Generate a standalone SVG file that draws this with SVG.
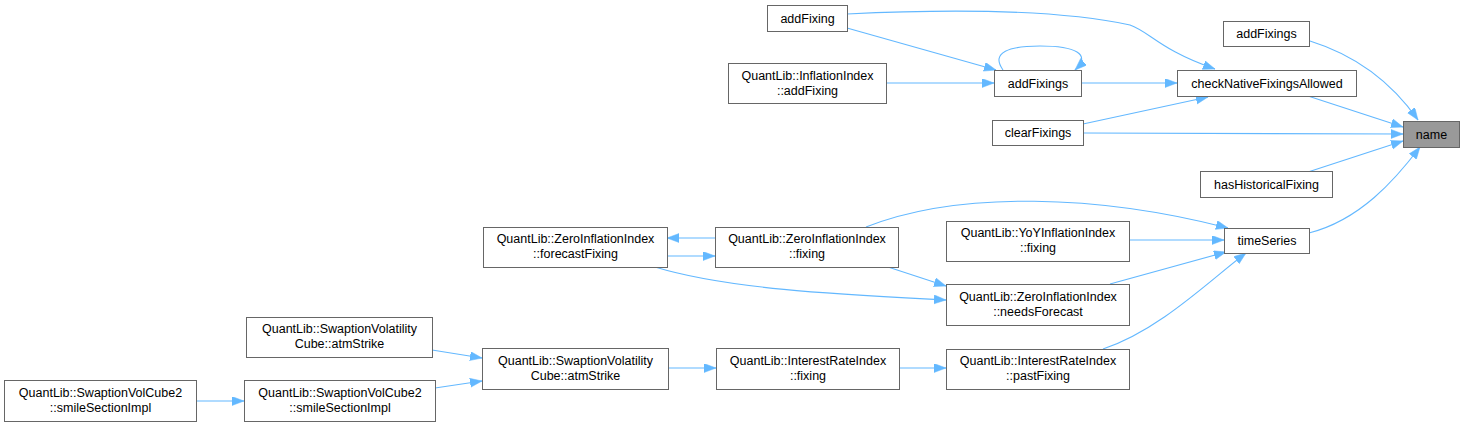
<svg xmlns="http://www.w3.org/2000/svg" width="1464" height="426" viewBox="0 0 1464 426">
<style>
.n rect{fill:#fff;stroke:#666;stroke-width:1}
.n text{font-family:"Liberation Sans",Arial,sans-serif;font-size:12.5px;fill:#000;text-anchor:middle}
.e path{fill:none;stroke:#63b8ff;stroke-width:1.1;marker-end:url(#a)}
</style>
<defs>
<marker id="a" markerUnits="userSpaceOnUse" markerWidth="13" markerHeight="10" refX="12" refY="4.5" orient="auto">
<path d="M0,0 L12,4.5 L0,9 z" fill="#63b8ff" stroke="#63b8ff" stroke-width="0.5"/>
</marker>
</defs>
<rect width="1464" height="426" fill="#fff"/>
<g id="edges" class="e">
<path d="M1310,41 C1355,55 1390,80 1418,120"/>
<path d="M1308,96 L1403,127"/>
<path d="M1083,133 L1403,134"/>
<path d="M1308,172 L1403,141"/>
<path d="M1309,233 C1360,220 1395,180 1420,147"/>
<path d="M847,14 C950,9 1060,10 1130,25 C1150,32 1160,50 1215,69"/>
<path d="M847,28 L996,70"/>
<path d="M886,83 L994,83"/>
<path d="M1003,70 C990,52 1010,46 1040,46 C1075,46 1092,54 1075,70"/>
<path d="M1081,83 L1177,83"/>
<path d="M1083,124 L1208,97"/>
<path d="M866,227 C960,190 1100,195 1228,228"/>
<path d="M1129,240 L1224,240"/>
<path d="M1110,284 L1226,252"/>
<path d="M1103,349 C1160,330 1210,280 1246,253"/>
<path d="M715,238 L667,238"/>
<path d="M667,256 L715,256"/>
<path d="M888,267 L946,286"/>
<path d="M655,267 C730,290 850,295 946,300"/>
<path d="M432,350 L482,358"/>
<path d="M435,388 L482,381"/>
<path d="M196,401 L244,401"/>
<path d="M668,368 L716,368"/>
<path d="M899,368 L946,368"/>
</g>
<g id="name" class="n"><rect x="1403.5" y="121.5" width="56" height="26" style="fill:#999"/><text x="1431.5" y="138.5">name</text></g>
<g id="addFixings_r" class="n"><rect x="1223.5" y="21.5" width="86" height="25"/><text x="1266.5" y="38">addFixings</text></g>
<g id="checkNative" class="n"><rect x="1177.5" y="70.5" width="179" height="26"/><text x="1267" y="87.5">checkNativeFixingsAllowed</text></g>
<g id="hasHistorical" class="n"><rect x="1200.5" y="171.5" width="132" height="26"/><text x="1266.5" y="188.5">hasHistoricalFixing</text></g>
<g id="timeSeries" class="n"><rect x="1224.5" y="228.5" width="85" height="25"/><text x="1267" y="245">timeSeries</text></g>
<g id="addFixing" class="n"><rect x="767.5" y="5.5" width="80" height="26"/><text x="807.5" y="22.5">addFixing</text></g>
<g id="inflAddFixing" class="n"><rect x="728.5" y="63.5" width="158" height="40"/><text x="807.5" y="79.5">QuantLib::InflationIndex</text><text x="807.5" y="94.5">::addFixing</text></g>
<g id="addFixings_m" class="n"><rect x="994.5" y="70.5" width="87" height="26"/><text x="1038" y="87.5">addFixings</text></g>
<g id="clearFixings" class="n"><rect x="992.5" y="120.5" width="91" height="25"/><text x="1038" y="137">clearFixings</text></g>
<g id="forecastFixing" class="n"><rect x="483.5" y="227.5" width="184" height="40"/><text x="575.5" y="243">QuantLib::ZeroInflationIndex</text><text x="575.5" y="258">::forecastFixing</text></g>
<g id="ziiFixing" class="n"><rect x="715.5" y="227.5" width="183" height="40"/><text x="807" y="243">QuantLib::ZeroInflationIndex</text><text x="807" y="258">::fixing</text></g>
<g id="yoyFixing" class="n"><rect x="946.5" y="221.5" width="183" height="40"/><text x="1038" y="237">QuantLib::YoYInflationIndex</text><text x="1038" y="252">::fixing</text></g>
<g id="needsForecast" class="n"><rect x="946.5" y="284.5" width="183" height="41"/><text x="1038" y="300.5">QuantLib::ZeroInflationIndex</text><text x="1038" y="315.5">::needsForecast</text></g>
<g id="pastFixing" class="n"><rect x="946.5" y="349.5" width="183" height="40"/><text x="1038" y="365">QuantLib::InterestRateIndex</text><text x="1038" y="380">::pastFixing</text></g>
<g id="svcAtmL" class="n"><rect x="246.5" y="317.5" width="186" height="40"/><text x="339.5" y="333">QuantLib::SwaptionVolatility</text><text x="339.5" y="348">Cube::atmStrike</text></g>
<g id="smileL" class="n"><rect x="4.5" y="380.5" width="192" height="41"/><text x="100.5" y="396.5">QuantLib::SwaptionVolCube2</text><text x="100.5" y="411.5">::smileSectionImpl</text></g>
<g id="smileM" class="n"><rect x="244.5" y="380.5" width="191" height="41"/><text x="340" y="396.5">QuantLib::SwaptionVolCube2</text><text x="340" y="411.5">::smileSectionImpl</text></g>
<g id="svcAtmM" class="n"><rect x="482.5" y="348.5" width="186" height="41"/><text x="575.5" y="364.5">QuantLib::SwaptionVolatility</text><text x="575.5" y="379.5">Cube::atmStrike</text></g>
<g id="iriFixing" class="n"><rect x="716.5" y="348.5" width="183" height="41"/><text x="808" y="364.5">QuantLib::InterestRateIndex</text><text x="808" y="379.5">::fixing</text></g>
</svg>
